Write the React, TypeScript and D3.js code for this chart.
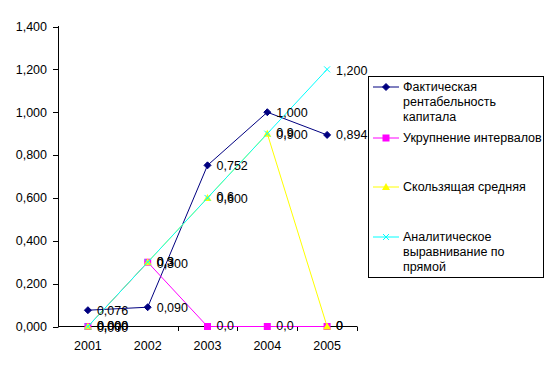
import React from "react";
import * as d3 from "d3";

const years = ["2001", "2002", "2003", "2004", "2005"];
const actual = [0.076, 0.09, 0.752, 1.0, 0.894];
const actualLabels = ["0,076", "0,090", "0,752", "1,000", "0,894"];
const enlarged = [0, 0.3, 0, 0, 0];
const enlargedLabels = ["0,000", "0,3", "0,0", "0,0", "0"];
const moving = [0, 0.3, 0.6, 0.9, 0];
const movingLabels = ["0,000", "0,3", "0,6", "0,9", "0"];
const trend = [0, 0.3, 0.6, 0.9, 1.2];
const trendLabels = ["0,000", "0,300", "0,600", "0,900", "1,200"];
const yTicks = [0, 0.2, 0.4, 0.6, 0.8, 1.0, 1.2, 1.4];
const legendNames = [
  ["Фактическая", "рентабельность", "капитала"],
  ["Укрупнение интервалов"],
  ["Скользящая средняя"],
  ["Аналитическое", "выравнивание по", "прямой"],
];

const FONT = "'Liberation Sans', Arial, sans-serif";

type Marker = "diamond" | "square" | "triangle" | "x";

function MarkerShape({ type, x, y, color }: { type: Marker; x: number; y: number; color: string }) {
  if (type === "diamond") {
    const s = 3.5;
    return <path d={`M${x},${y - s}L${x + s},${y}L${x},${y + s}L${x - s},${y}Z`} fill={color} stroke={color} />;
  }
  if (type === "square") {
    return <rect x={x - 3.5} y={y - 3.5} width={7} height={7} fill={color} />;
  }
  if (type === "triangle") {
    return <path d={`M${x},${y - 4}L${x + 4},${y + 3}L${x - 4},${y + 3}Z`} fill={color} />;
  }
  return (
    <path d={`M${x - 3},${y - 3}L${x + 3},${y + 3}M${x + 3},${y - 3}L${x - 3},${y + 3}`} stroke={color} strokeWidth={1} />
  );
}

export default function App() {
  const width = 553;
  const height = 372;
  const x = d3.scaleBand<string>().domain(years).range([58, 357]).padding(0);
  const y = d3.scaleLinear().domain([0, 1.4]).range([326.5, 26.5]);
  const cx = (d: string) => (x(d) as number) + x.bandwidth() / 2;

  const series = [
    { values: actual, labels: actualLabels, color: "#000080", marker: "diamond" as Marker, dy: 0 },
    { values: enlarged, labels: enlargedLabels, color: "#FF00FF", marker: "square" as Marker, dy: -1 },
    { values: moving, labels: movingLabels, color: "#FFFF00", marker: "triangle" as Marker, dy: -1 },
    { values: trend, labels: trendLabels, color: "#00FFFF", marker: "x" as Marker, dy: 1 },
  ];

  const line = d3
    .line<number>()
    .x((_, i) => cx(years[i]))
    .y((v) => y(v));

  const legendY = [87, 138, 187, 237];

  return (
    <svg
      width={width}
      height={height}
      style={{ position: "absolute", left: 0, top: 0, background: "#fff" }}
      fontFamily={FONT}
      fontSize={12.5}
    >
      <rect width={width} height={height} fill="#fff" />
      {/* y axis */}
      <line x1={58.5} x2={58.5} y1={26} y2={327} stroke="#000" />
      {yTicks.map((t) => (
        <g key={t}>
          <line x1={53} x2={58.5} y1={Math.round(y(t)) + 0.5} y2={Math.round(y(t)) + 0.5} stroke="#000" />
          <text x={47} y={y(t)} dy="0.35em" textAnchor="end" fill="#000">
            {d3.format(".3f")(t).replace(".", ",")}
          </text>
        </g>
      ))}
      {/* x axis */}
      <line x1={58} x2={357} y1={326.5} y2={326.5} stroke="#000" />
      {years.map((yr) => (
        <g key={yr}>
          <line
            x1={Math.round((x(yr) as number) + x.bandwidth()) + 0.5}
            x2={Math.round((x(yr) as number) + x.bandwidth()) + 0.5}
            y1={326.5}
            y2={331}
            stroke="#000"
          />
          <text x={cx(yr)} y={346} dy="0.35em" textAnchor="middle" fill="#000">
            {yr}
          </text>
        </g>
      ))}
      {/* lines */}
      {series.map((s, si) => (
        <g key={si}>
          <path d={line(s.values) as string} fill="none" stroke={s.color} strokeWidth={1} />
          {s.values.map((v, i) => (
            <MarkerShape key={i} type={s.marker} x={cx(years[i])} y={y(v)} color={s.color} />
          ))}
        </g>
      ))}
      {/* labels */}
      {series.map((s, si) => (
        <g key={"l" + si}>
          {s.values.map((v, i) => (
            <text key={i} x={cx(years[i]) + 9} y={y(v) + s.dy} dy="0.35em" fill="#000">
              {s.labels[i]}
            </text>
          ))}
        </g>
      ))}
      {/* legend */}
      <rect x={368.5} y={76.5} width={175} height={201} fill="#fff" stroke="#000" />
      {series.map((s, si) => (
        <g key={"lg" + si}>
          <line x1={373} x2={399} y1={legendY[si]} y2={legendY[si]} stroke={s.color} />
          <MarkerShape type={s.marker} x={386} y={legendY[si]} color={s.color} />
          {legendNames[si].map((ln, li) => (
            <text key={li} x={403} y={legendY[si] + li * 15} dy="0.35em" fill="#000">
              {ln}
            </text>
          ))}
        </g>
      ))}
    </svg>
  );
}
